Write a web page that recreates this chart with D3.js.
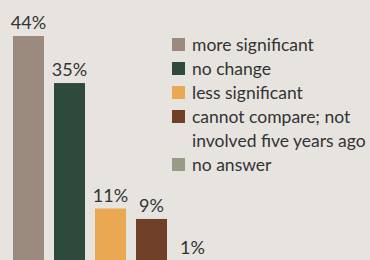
<!DOCTYPE html>
<html><head><meta charset="utf-8">
<script src="https://cdn.jsdelivr.net/npm/d3@7"></script>
<style>
html,body{margin:0;padding:0;background:#e7e4e0;}
svg{display:block;}
text{font-family:Lato,"Noto Sans",sans-serif;fill:#333;}
</style></head>
<body>
<svg id="chart" width="370" height="260"></svg>
<script>
const categories = ["more significant","no change","less significant","cannot compare; not involved five years ago","no answer"];
const values = [44, 35, 11, 9, 1];
const labels = ["44%","35%","11%","9%","1%"];
const legendLines = [["more significant"],["no change"],["less significant"],["cannot compare; not","involved five years ago"],["no answer"]];
const colors = ["#9b8b7e","#2e4a3c","#e9a851","#6f3f28","#989c86"];

const svg = d3.select("#chart");
const x = d3.scaleBand().domain(categories).range([13,208]).paddingInner(10/41).paddingOuter(0);
const y = d3.scaleLinear().domain([0,44]).range([266,36]);
const color = d3.scaleOrdinal().domain(categories).range(colors);

svg.append("rect").attr("width",370).attr("height",260).attr("fill","#e7e4e0");

svg.selectAll("rect.bar").data(categories).join("rect")
  .attr("class","bar")
  .attr("x",d=>x(d)).attr("width",x.bandwidth())
  .attr("y",(d,i)=>y(values[i])).attr("height",(d,i)=>y(0)-y(values[i]))
  .attr("fill",d=>color(d));

svg.selectAll("text.val").data(categories).join("text")
  .attr("class","val")
  .attr("x",d=>x(d)+x.bandwidth()/2)
  .attr("y",(d,i)=>y(values[i])-7)
  .attr("text-anchor","middle")
  .attr("font-size",18)
  .text((d,i)=>labels[i]);

// legend
let ly = 38;
const lg = svg.append("g");
categories.forEach((c,i)=>{
  lg.append("rect").attr("x",172).attr("y",ly).attr("width",13).attr("height",13).attr("fill",color(c));
  legendLines[i].forEach((t,j)=>{
    lg.append("text").attr("x",192).attr("y",ly+13+j*24).attr("font-size",17.5).text(t);
  });
  ly += 24*legendLines[i].length;
});
</script>
</body></html>
